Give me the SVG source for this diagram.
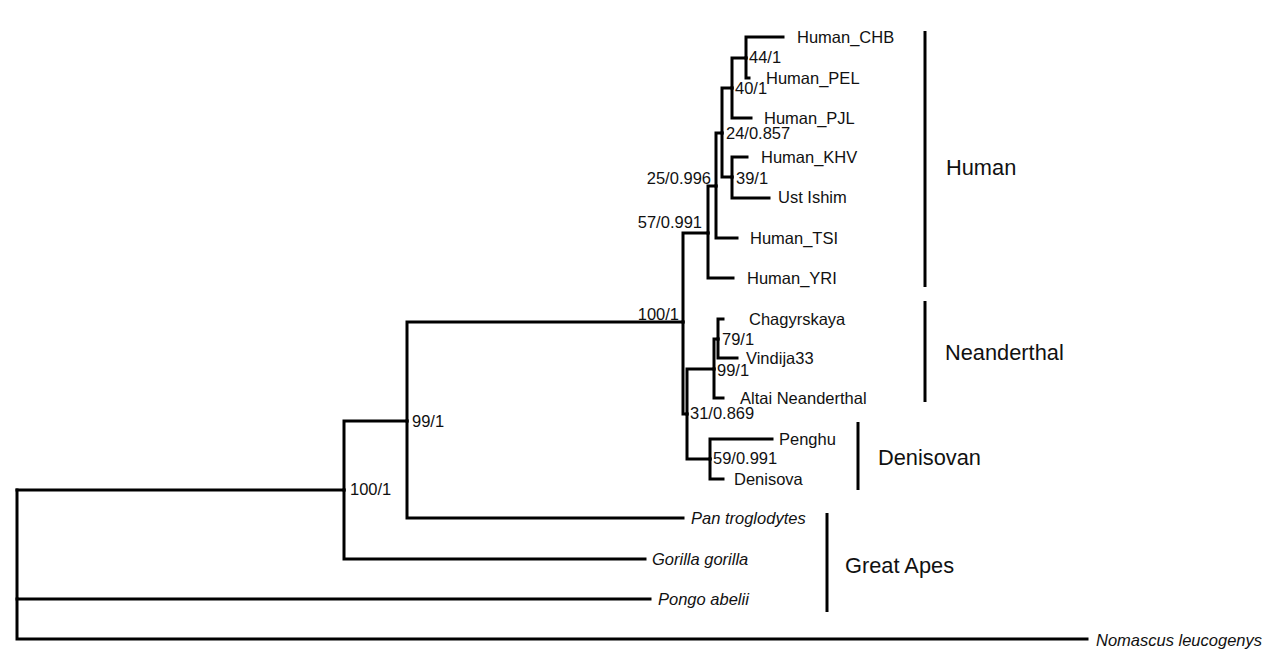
<svg xmlns="http://www.w3.org/2000/svg" width="1280" height="659" viewBox="0 0 1280 659">
<style>
.e{fill:none;stroke:#000;stroke-width:3;stroke-linecap:square;stroke-linejoin:miter}
.bar{stroke:#000;stroke-width:3}
text{font-family:"Liberation Sans",Arial,sans-serif;fill:#111}
.t{font-size:16.5px}
.i{font-size:16.5px;font-style:italic}
.s{font-size:16.5px}
.se{font-size:16.5px;text-anchor:end}
.g{font-size:21.8px}
</style>
<rect width="1280" height="659" fill="#fff"/>
<g id="connectors">
<path class="e" d="M17 490 H344"/>
<path class="e" d="M17 490 V599 H650"/>
<path class="e" d="M17 599 V639 H1087"/>
<path class="e" d="M344 490 V421 H407"/>
<path class="e" d="M344 490 V559 H645"/>
<path class="e" d="M407 421 V322 H683"/>
<path class="e" d="M407 421 V518 H683"/>
<path class="e" d="M683 322 V233 H708"/>
<path class="e" d="M683 322 V414 H687"/>
<path class="e" d="M708 233 V186 H716"/>
<path class="e" d="M708 233 V278 H733"/>
<path class="e" d="M716 186 V133 H722"/>
<path class="e" d="M716 186 V238 H737"/>
<path class="e" d="M722 133 V88 H732"/>
<path class="e" d="M722 133 V177 H732"/>
<path class="e" d="M732 88 V58 H746"/>
<path class="e" d="M732 88 V118 H751"/>
<path class="e" d="M746 58 V37 H783"/>
<path class="e" d="M746 58 V78 H749"/>
<path class="e" d="M732 177 V157 H747"/>
<path class="e" d="M732 177 V198 H769"/>
<path class="e" d="M687 414 V369 H714"/>
<path class="e" d="M687 414 V459 H710"/>
<path class="e" d="M714 369 V339 H718"/>
<path class="e" d="M714 369 V398 H723"/>
<path class="e" d="M718 339 V319 H723"/>
<path class="e" d="M718 339 V358 H737"/>
<path class="e" d="M710 459 V439 H772"/>
<path class="e" d="M710 459 V479 H723"/>
</g>
<g id="leaf-chb"><text class="t" x="797" y="43">Human_CHB</text></g>
<g id="leaf-pel"><text class="t" x="766" y="84">Human_PEL</text></g>
<g id="leaf-pjl"><text class="t" x="764" y="124">Human_PJL</text></g>
<g id="leaf-khv"><text class="t" x="761" y="163">Human_KHV</text></g>
<g id="leaf-ust"><text class="t" x="778" y="203">Ust Ishim</text></g>
<g id="leaf-tsi"><text class="t" x="750" y="244">Human_TSI</text></g>
<g id="leaf-yri"><text class="t" x="747" y="284">Human_YRI</text></g>
<g id="leaf-chag"><text class="t" x="749" y="325">Chagyrskaya</text></g>
<g id="leaf-vind"><text class="t" x="746" y="364">Vindija33</text></g>
<g id="leaf-altai"><text class="t" x="740" y="404">Altai Neanderthal</text></g>
<g id="leaf-penghu"><text class="t" x="779" y="445">Penghu</text></g>
<g id="leaf-denisova"><text class="t" x="734" y="485">Denisova</text></g>
<g id="leaf-pan"><text class="i" x="691" y="524">Pan troglodytes</text></g>
<g id="leaf-gorilla"><text class="i" x="652" y="565">Gorilla gorilla</text></g>
<g id="leaf-pongo"><text class="i" x="658" y="605">Pongo abelii</text></g>
<g id="leaf-nomascus"><text class="i" x="1096" y="646">Nomascus leucogenys</text></g>
<g id="node-j"><text class="s" x="749" y="63">44/1</text></g>
<g id="node-h"><text class="s" x="735" y="94">40/1</text></g>
<g id="node-g"><text class="s" x="726" y="139">24/0.857</text></g>
<g id="node-i"><text class="s" x="736" y="184">39/1</text></g>
<g id="node-f"><text class="se" x="711" y="184">25/0.996</text></g>
<g id="node-d"><text class="se" x="702" y="228">57/0.991</text></g>
<g id="node-c"><text class="se" x="679" y="320">100/1</text></g>
<g id="node-m"><text class="s" x="722" y="345">79/1</text></g>
<g id="node-k"><text class="s" x="717" y="376">99/1</text></g>
<g id="node-e"><text class="s" x="690" y="419">31/0.869</text></g>
<g id="node-l"><text class="s" x="713" y="464">59/0.991</text></g>
<g id="node-b"><text class="s" x="412" y="427">99/1</text></g>
<g id="node-a"><text class="s" x="350" y="495">100/1</text></g>
<g id="clade-human"><line class="bar" x1="925" y1="31" x2="925" y2="287"/><text class="g" x="946" y="175">Human</text></g>
<g id="clade-neanderthal"><line class="bar" x1="925" y1="301" x2="925" y2="402"/><text class="g" x="945" y="360">Neanderthal</text></g>
<g id="clade-denisovan"><line class="bar" x1="858" y1="422" x2="858" y2="490"/><text class="g" x="878" y="465">Denisovan</text></g>
<g id="clade-apes"><line class="bar" x1="827" y1="513" x2="827" y2="612"/><text class="g" x="845" y="573">Great Apes</text></g>
</svg>
